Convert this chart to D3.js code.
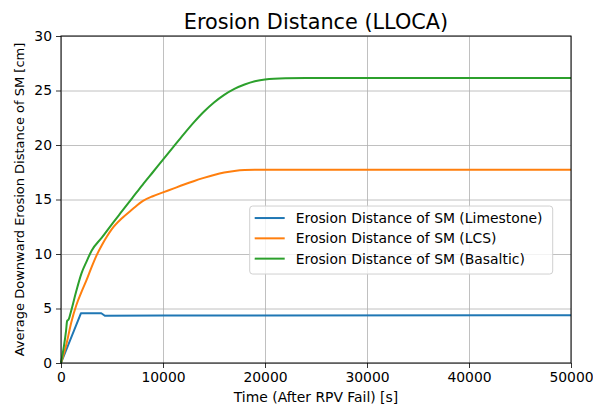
<!DOCTYPE html>
<html>
<head>
<meta charset="utf-8">
<script src="https://cdn.jsdelivr.net/npm/d3@7"></script>
<style>
  body { margin: 0; background: #fff; }
  svg { font-family: "DejaVu Sans", sans-serif; }
</style>
</head>
<body>
<div id="chart"></div>
<script>
// Series data (time in s, erosion distance in cm)
const limestoneTime = [0, 1950, 3950, 4300, 10000, 50000];
const limestoneVal  = [0, 4.56, 4.56, 4.33, 4.36, 4.38];

const lcsTime = [0, 500, 1000, 1500, 2000, 2500, 3000, 3500, 4000, 4500, 5000, 6000, 7000, 8000, 9000, 10000,
                 11000, 12000, 13000, 14000, 15000, 16000, 17000, 18000, 19000, 50000];
const lcsVal  = [0, 1.6, 3.7, 5.3, 6.5, 7.6, 8.8, 9.9, 10.8, 11.6, 12.3, 13.3, 14.1, 14.85, 15.3, 15.65,
                 16.0, 16.35, 16.68, 16.98, 17.25, 17.47, 17.62, 17.7, 17.72, 17.72];

const basalticTime = [0, 500, 600, 750, 1000, 1500, 2000, 2500, 3000, 4000, 5000, 6000, 7000, 8000, 9000, 10000,
                      11000, 12000, 13000, 14000, 15000, 16000, 17000, 18000, 19000, 20000, 22000, 24000, 50000];
const basalticVal  = [0, 3.0, 3.85, 4.0, 4.8, 6.6, 8.2, 9.3, 10.3, 11.5, 12.75, 13.95, 15.15, 16.35, 17.5, 18.65,
                      19.8, 20.95, 22.05, 23.05, 23.9, 24.6, 25.15, 25.55, 25.85, 26.02, 26.12, 26.14, 26.14];

const xTicks = [0, 10000, 20000, 30000, 40000, 50000];
const yTicks = [0, 5, 10, 15, 20, 25, 30];

const series = [
  { name: 'Erosion Distance of SM (Limestone)', color: '#1f77b4', t: limestoneTime, v: limestoneVal, curve: d3.curveLinear },
  { name: 'Erosion Distance of SM (LCS)', color: '#ff7f0e', t: lcsTime, v: lcsVal, curve: d3.curveMonotoneX },
  { name: 'Erosion Distance of SM (Basaltic)', color: '#2ca02c', t: basalticTime, v: basalticVal, curve: d3.curveMonotoneX }
];

const W = 593, H = 405;
const margin = { top: 36, right: 22, bottom: 42, left: 61 };
const width = W - margin.left - margin.right;
const height = H - margin.top - margin.bottom;

const svg = d3.select('#chart').append('svg')
  .attr('width', W).attr('height', H);

const g = svg.append('g')
  .attr('transform', `translate(${margin.left},${margin.top})`);

const x = d3.scaleLinear().domain([0, 50000]).range([0, width]);
const y = d3.scaleLinear().domain([0, 30]).range([height, 0]);

// Grid
g.append('g')
  .attr('transform', `translate(0,${height})`)
  .call(d3.axisBottom(x).tickValues(xTicks).tickSize(-height).tickFormat(''))
  .call(s => s.select('.domain').remove())
  .call(s => s.selectAll('line').attr('stroke', '#b0b0b0').attr('stroke-width', 0.8));
g.append('g')
  .call(d3.axisLeft(y).tickValues(yTicks).tickSize(-width).tickFormat(''))
  .call(s => s.select('.domain').remove())
  .call(s => s.selectAll('line').attr('stroke', '#b0b0b0').attr('stroke-width', 0.8));

// Lines
series.forEach(s => {
  const line = d3.line().x(d => x(d[0])).y(d => y(d[1])).curve(s.curve);
  g.append('path')
    .datum(s.t.map((t, i) => [t, s.v[i]]))
    .attr('fill', 'none')
    .attr('stroke', s.color)
    .attr('stroke-width', 2)
    .attr('stroke-linejoin', 'round')
    .attr('d', line);
});

// Frame
g.append('rect')
  .attr('width', width).attr('height', height)
  .attr('fill', 'none').attr('stroke', '#000').attr('stroke-width', 1);

// Axes
const xAxis = g.append('g')
  .attr('transform', `translate(0,${height})`)
  .call(d3.axisBottom(x).tickValues(xTicks).tickSize(5).tickPadding(4.5).tickFormat(d3.format('d')));
const yAxis = g.append('g')
  .call(d3.axisLeft(y).tickValues(yTicks).tickSize(5).tickPadding(4).tickFormat(d3.format('d')));
[xAxis, yAxis].forEach(a => {
  a.select('.domain').remove();
  a.selectAll('line').attr('stroke', '#000').attr('stroke-width', 0.8);
  a.selectAll('text').attr('fill', '#000').style('font-size', '13.9px').style('font-family', '"DejaVu Sans", sans-serif');
});

// Title & labels
svg.append('text')
  .attr('x', margin.left + width / 2).attr('y', 29)
  .attr('text-anchor', 'middle')
  .style('font-size', '20.8px')
  .text('Erosion Distance (LLOCA)');

svg.append('text')
  .attr('x', margin.left + width / 2).attr('y', 402)
  .attr('text-anchor', 'middle')
  .style('font-size', '13.9px')
  .text('Time (After RPV Fail) [s]');

svg.append('text')
  .attr('transform', `translate(24,${margin.top + height / 2}) rotate(-90)`)
  .attr('text-anchor', 'middle')
  .style('font-size', '13px')
  .text('Average Downward Erosion Distance of SM [cm]');

// Legend
const legend = g.append('g')
  .attr('transform', `translate(${x(18500)},${y(14.4)})`);
legend.append('rect')
  .attr('width', 303).attr('height', 68)
  .attr('rx', 3)
  .attr('fill', 'rgba(255,255,255,0.8)')
  .attr('stroke', '#d0d0d0')
  .attr('stroke-width', 1);
series.forEach((s, i) => {
  const row = legend.append('g').attr('transform', `translate(0,${12 + i * 20.3})`);
  row.append('line')
    .attr('x1', 5).attr('x2', 35)
    .attr('stroke', s.color).attr('stroke-width', 2);
  row.append('text')
    .attr('x', 46).attr('y', 5)
    .style('font-size', '13.9px')
    .text(s.name);
});
</script>
</body>
</html>
